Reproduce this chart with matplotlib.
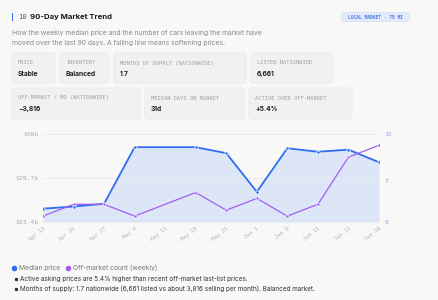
import datetime as dt
import matplotlib
matplotlib.use("Agg")
import matplotlib.pyplot as plt
import matplotlib.dates as mdates
from matplotlib.patches import FancyBboxPatch, Rectangle

# ---------------- data ----------------
dates = ["2025-04-13", "2025-04-20", "2025-04-27", "2025-05-04", "2025-05-18",
         "2025-05-25", "2025-06-01", "2025-06-08", "2025-06-15", "2025-06-22", "2025-06-29"]
median_price_k = [25.3, 25.6, 26.0, 34.05, 34.05, 33.2, 27.7, 33.9, 33.4, 33.7, 31.9]
offmarket_count = [1, 3, 3, 1, 5, 2, 4, 1, 3, 11, 13]
tick_dates = ["2025-04-13", "2025-04-20", "2025-04-27", "2025-05-04", "2025-05-11", "2025-05-18",
              "2025-05-25", "2025-06-01", "2025-06-08", "2025-06-15", "2025-06-22", "2025-06-29"]
tick_labels = ["Apr 13", "Apr 20", "Apr 27", "May 4", "May 11", "May 18",
               "May 25", "Jun 1", "Jun 8", "Jun 15", "Jun 22", "Jun 29"]
left_ticks = [23.4, 29.7, 36.0]
left_tick_labels = ["$23.4k", "$29.7k", "$36k"]
right_ticks = [0, 7, 15]
right_tick_labels = ["0", "7", "15"]
card_labels = ["PRICE", "INVENTORY", "MONTHS OF SUPPLY (NATIONWIDE)", "LISTED NATIONWIDE",
               "OFF-MARKET / MO (NATIONWIDE)", "MEDIAN DAYS ON MARKET", "ACTIVE OVER OFF-MARKET"]
card_values = ["Stable", "Balanced", "1.7", "6,661", "\u22123,816", "31d", "+5.4%"]
notes = ["Active asking prices are 5.4% higher than recent off-market last-list prices.",
         "Months of supply: 1.7 nationwide (6,661 listed vs about 3,816 selling per month). Balanced market."]

# ---------------- style ----------------
BG = "#f8f8f7"
BLUE = "#2f6cf3"
PURPLE = "#a25cf2"
SANS = ["Inter", "DejaVu Sans"]
MONO = ["DejaVu Sans Mono"]
W, H = 438, 300

fig = plt.figure(figsize=(W / 100, H / 100), dpi=100, facecolor=BG)

# overlay in pixel coords
ov = fig.add_axes([0, 0, 1, 1])
ov.set_xlim(0, W)
ov.set_ylim(H, 0)
ov.axis("off")
ov.set_zorder(0)

# header
ov.add_patch(Rectangle((11.5, 13), 1.3, 8, color=BLUE, lw=0))
ov.text(18, 17.2, "10", family=MONO, fontsize=5.2, color="#555555", va="center")
ov.text(30, 17.2, "90-Day Market Trend", family=SANS, fontsize=5.6, weight="bold",
        color="#1a1a1a", va="center")
ov.add_patch(FancyBboxPatch((341, 12.5), 69, 9, boxstyle="round,pad=0,rounding_size=4.5",
                            fc="#e3eafa", ec="#d3defa", lw=0.5))
ov.text(375.5, 17.2, "LOCAL MARKET \u00b7 75 MI", family=MONO, fontsize=3.3, color="#4d7be8",
        va="center", ha="center", weight="bold")
ov.text(12, 33, "How the weekly median price and the number of cars leaving the market have",
        family=SANS, fontsize=4.9, color="#8a8a8a", va="center")
ov.text(12, 43, "moved over the last 90 days. A falling line means softening prices.",
        family=SANS, fontsize=4.9, color="#8a8a8a", va="center")

# cards
cards = [(12, 53, 43, 30), (60, 53, 49, 30), (114, 53, 132, 30), (251, 53, 82, 30),
         (12, 88, 128, 31), (145, 88, 99, 31), (249, 88, 103, 31)]
for (x, y, w, h), lab, val in zip(cards, card_labels, card_values):
    ov.add_patch(FancyBboxPatch((x, y), w, h, boxstyle="round,pad=0,rounding_size=3",
                                fc="#f1f1f0", ec="#e6e6e5", lw=0.5))
    ov.text(x + 6, y + 10, lab, family=MONO, fontsize=3.9, color="#a0a0a0", va="center")
    ov.text(x + 6, y + 21, val, family=SANS, fontsize=4.8, weight="bold", color="#222222",
            va="center")

# legend
ov.plot([14], [268], "o", ms=3, color=BLUE)
ov.text(19, 268, "Median price", family=SANS, fontsize=4.8, color="#777777", va="center")
ov.plot([68], [268], "o", ms=3, color=PURPLE)
ov.text(73, 268, "Off-market count (weekly)", family=SANS, fontsize=4.8, color="#777777",
        va="center")
for yy, note in zip([279, 289], notes):
    ov.plot([16], [yy], "s", ms=1.3, color="#333333")
    ov.text(20.5, yy, note, family=SANS, fontsize=4.6, color="#333333", va="center")

# ---------------- chart ----------------
x = [dt.datetime.strptime(d, "%Y-%m-%d") for d in dates]
xt = [dt.datetime.strptime(d, "%Y-%m-%d") for d in tick_dates]

ax = fig.add_axes([43 / W, 1 - 222 / H, (379 - 43) / W, (222 - 133.5) / H])
ax.set_zorder(2)
ax.patch.set_visible(False)
ax.fill_between(x, median_price_k, left_ticks[0], color="#dde6f7", lw=0, zorder=1)
ax.plot(x, median_price_k, color=BLUE, lw=1.3, marker="o", ms=2.4, mfc=BLUE,
        mec="white", mew=0.5, zorder=3)
ax.set_ylim(left_ticks[0], left_ticks[-1])
ax.set_xlim(xt[0], xt[-1])
ax.set_yticks(left_ticks)
ax.set_yticklabels(left_tick_labels, family=MONO, fontsize=4.6, color="#aaaaaa")
ax.set_xticks(xt)
ax.set_xticklabels(tick_labels, family=MONO, fontsize=4.0, color="#b5b5b5",
                   rotation=38, ha="right", rotation_mode="anchor")
ax.grid(axis="y", color="#e8e8e8", lw=0.6, zorder=0)
ax.tick_params(length=0, pad=3)
for s in ax.spines.values():
    s.set_visible(False)

ax2 = ax.twinx()
ax2.plot(x, offmarket_count, color=PURPLE, lw=0.9, marker="o", ms=2.2, mfc=PURPLE,
         mec="white", mew=0.4, zorder=3)
ax2.set_ylim(0, 15)
ax2.set_yticks(right_ticks)
ax2.set_yticklabels(right_tick_labels, family=MONO, fontsize=4.6, color="#b58cf5")
ax2.tick_params(length=0, pad=4)
for s in ax2.spines.values():
    s.set_visible(False)

fig.savefig("out.png", dpi=100, facecolor=BG)
